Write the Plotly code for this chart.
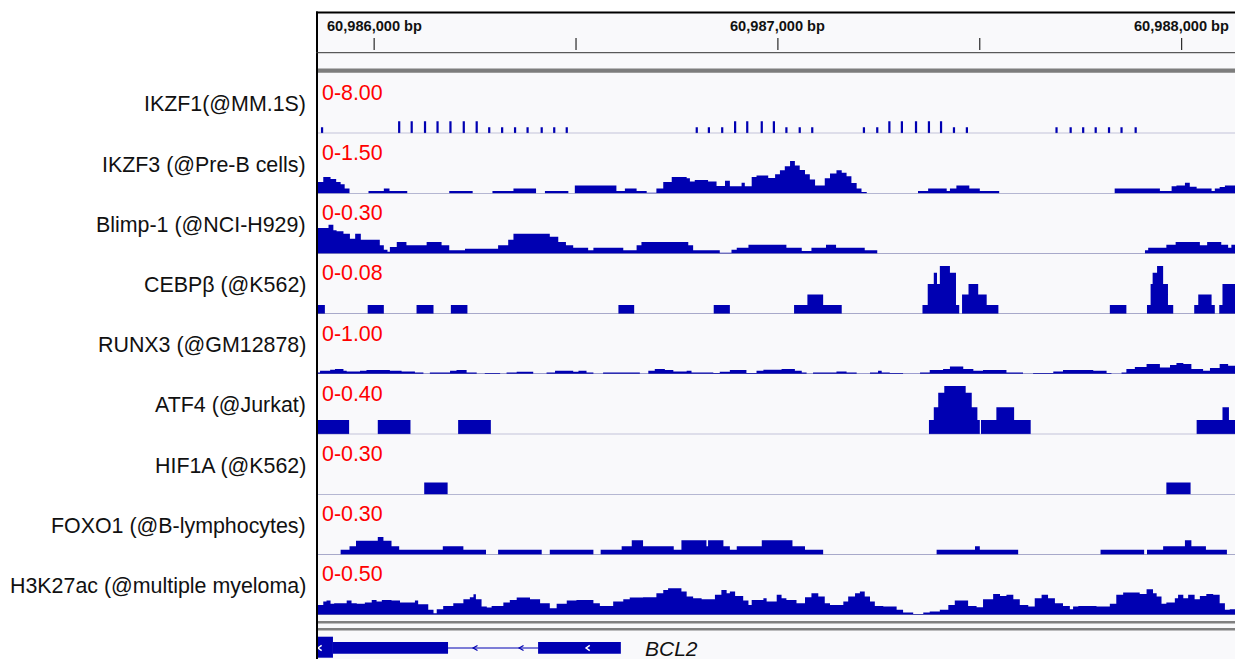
import plotly.graph_objects as go

# ---------------- data ----------------
REGION_CHR_START = 60985856          # first bp shown
REGION_LEN = 2276                    # bp shown

track_names = ["IKZF1(@MM.1S)", "IKZF3 (@Pre-B cells)", "Blimp-1 (@NCI-H929)",
               "CEBPβ (@K562)", "RUNX3 (@GM12878)", "ATF4 (@Jurkat)",
               "HIF1A (@K562)", "FOXO1 (@B-lymphocytes)", "H3K27ac (@multiple myeloma)"]
track_max = [8.0, 1.5, 0.3, 0.08, 1.0, 0.4, 0.3, 0.3, 0.5]

# positions are bp offsets from REGION_CHR_START
ikzf1_pos = [15, 206, 237, 270, 301, 333, 366, 398, 429, 461, 493, 524, 559, 590, 621,
             943, 973, 1006, 1038, 1068, 1104, 1134, 1165, 1198, 1229, 1357, 1390,
             1420, 1451, 1486, 1518, 1548, 1580, 1612, 1834, 1869, 1900, 1931, 1964, 1995, 2030]
ikzf1_val = [0.8] + [1.6] * 7 + [0.8] * 7 + [0.8] * 3 + [1.6] * 4 + [0.8] * 3 + [0.8] * 2 \
            + [1.6] * 5 + [0.8] * 2 + [0.8] * 7
ikzf1_bin = 5.5

ikzf3_start = [0, 18, 36, 50, 61, 71, 83, 130, 168, 182, 226, 330, 388, 437, 489, 545, 567, 625, 641, 744,
               765, 794, 819, 843, 860, 881, 918, 926, 938, 971, 992, 1013, 1025, 1054, 1062, 1079, 1091,
               1120, 1137, 1149, 1161, 1174, 1186, 1198, 1211, 1223, 1236, 1260, 1273, 1289, 1302, 1314,
               1326, 1339, 1351, 1364, 1491, 1516, 1562, 1570, 1586, 1618, 1644, 1692, 1978, 2090, 2119,
               2131, 2152, 2164, 2181, 2218, 2226, 2238, 2251]
ikzf3_val = [0.29, 0.41, 0.36, 0.29, 0.23, 0.125, 0, 0.06, 0.125, 0.06, 0, 0.06, 0, 0.06, 0.125, 0, 0.06, 0, 0.2, 0.06,
             0.125, 0.06, 0.02, 0.125, 0.29, 0.41, 0.38, 0.30, 0.34, 0.30, 0.19, 0.32, 0.18, 0.27, 0.18, 0.41, 0.45,
             0.39, 0.48, 0.58, 0.68, 0.81, 0.70, 0.59, 0.48, 0.35, 0.2, 0.38, 0.5, 0.58, 0.52, 0.43,
             0.26, 0.125, 0.04, 0, 0.06, 0.125, 0.06, 0.125, 0.2, 0.125, 0.06, 0, 0.125, 0.06, 0.18,
             0.2, 0.27, 0.17, 0.125, 0.06, 0.125, 0.16, 0.2]

blimp_start = [0, 31, 43, 51, 68, 84, 97, 111, 158, 168, 177, 183, 200, 224, 274, 311, 330, 369, 451, 476,
               489, 579, 600, 619, 637, 674, 687, 761, 794, 806, 922, 934, 1000, 1029, 1042, 1071, 1165, 1203,
               1227, 1263, 1288, 1359, 1390, 2053, 2061, 2106, 2129, 2189, 2207, 2242, 2259, 2267]
blimp_val = [0.128, 0.145, 0.117, 0.112, 0.10, 0.075, 0.10, 0.07, 0.042, 0.02, 0.01, 0.033, 0.058, 0.042, 0.058,
             0.042, 0.017, 0.025, 0.042, 0.07, 0.10, 0.085, 0.058, 0.042, 0.03, 0.017, 0.03, 0.017, 0.042, 0.058,
             0.042, 0.017, 0.005, 0.02, 0.03, 0.045, 0.03, 0.013, 0.03, 0.045, 0.03, 0.017, 0, 0.017, 0.03,
             0.045, 0.058, 0.042, 0.058, 0.045, 0.03, 0.045]

cebpb_start = [0, 128, 249, 334, 749, 985, 1184, 1217, 1256, 1502, 1515, 1530, 1538, 1545, 1570, 1585, 1600,
               1616, 1640, 1661, 1966, 2058, 2067, 2072, 2083, 2098, 2110, 2175, 2185, 2218, 2237, 2245]
cebpb_end = [22, 168, 291, 375, 788, 1025, 1217, 1256, 1302, 1515, 1530, 1538, 1545, 1570, 1585, 1593, 1616,
             1640, 1661, 1690, 2007, 2067, 2072, 2083, 2098, 2110, 2123, 2185, 2218, 2226, 2245, 2276]
cebpb_val = [0.012, 0.012, 0.012, 0.012, 0.012, 0.012, 0.012, 0.026, 0.012, 0.012, 0.04, 0.055, 0.04, 0.064,
             0.055, 0.012, 0.026, 0.04, 0.026, 0.012, 0.012, 0.012, 0.04, 0.055, 0.064, 0.04, 0.012, 0.012,
             0.026, 0.012, 0.012, 0.04]

runx3_start = [0, 10, 35, 47, 68, 76, 109, 125, 183, 212, 245, 266, 282, 332, 348, 373, 398, 418, 456, 472,
               497, 538, 571, 592, 637, 650, 670, 687, 711, 802, 823, 839, 864, 885, 918, 930, 984, 1000,
               1025, 1066, 1091, 1108, 1153, 1186, 1203, 1215, 1231, 1289, 1314, 1339, 1372, 1392, 1401, 1421,
               1454, 1496, 1520, 1553, 1570, 1603, 1628, 1652, 1710, 1751, 1776, 1826, 1850, 1925, 1958, 1970,
               1995, 2007, 2028, 2057, 2090, 2115, 2131, 2148, 2168, 2197, 2214, 2238, 2259]
runx3_val = [0.028, 0.055, 0.072, 0.083, 0.055, 0.044, 0.055, 0.067, 0.055, 0.044, 0.028, 0.005, 0.028, 0.055,
             0.067, 0.028, 0.005, 0.017, 0.005, 0.028, 0.039, 0.005, 0.028, 0.055, 0.039, 0.055, 0.028, 0.005,
             0.028, 0.005, 0.055, 0.083, 0.067, 0.044, 0.055, 0.028, 0.017, 0.039,
             0.067, 0.017, 0.055, 0.072, 0.083, 0.055, 0.028, 0.005, 0.028, 0.044, 0.028, 0.005, 0.028, 0.055,
             0.028, 0.017, 0.005, 0.028, 0.067, 0.083, 0.127, 0.083, 0.055, 0.067, 0.028, 0.005, 0.017, 0.044,
             0.067, 0.055, 0.017, 0.005, 0.028, 0.083, 0.12, 0.167, 0.11, 0.15, 0.183, 0.167, 0.083, 0.055,
             0.1, 0.167, 0.14]

atf4_start = [0, 153, 352, 1518, 1530, 1541, 1556, 1609, 1624, 1638, 1647, 1685, 1729, 2181, 2245, 2261]
atf4_end = [82, 234, 433, 1530, 1541, 1556, 1609, 1624, 1638, 1644, 1685, 1729, 1770, 2245, 2261, 2276]
atf4_val = [0.095, 0.095, 0.095, 0.095, 0.18, 0.277, 0.322, 0.277, 0.18, 0.095, 0.095, 0.18, 0.095,
            0.095, 0.18, 0.095]

hif1a_start = [268, 2106]
hif1a_end = [326, 2166]
hif1a_val = [0.06, 0.06]

foxo1_start = [0, 61, 83, 99, 153, 167, 187, 206, 314, 365, 421, 451, 559, 579, 687, 705, 757, 782, 810, 886,
               905, 967, 971, 1009, 1025, 1042, 1104, 1180, 1211, 1256, 1537, 1632, 1644, 1739, 1943, 2051,
               2058, 2098, 2152, 2168, 2204, 2256]
foxo1_val = [0, 0.025, 0.042, 0.07, 0.088, 0.07, 0.042, 0.025, 0.042, 0.025, 0, 0.025, 0, 0.025, 0, 0.025,
             0.042, 0.072, 0.042, 0.025, 0.072, 0.042, 0.072, 0.042, 0.025, 0.042, 0.072, 0.042, 0.025, 0,
             0.025, 0.042, 0.025, 0, 0.025, 0, 0.025, 0.042, 0.072, 0.042, 0.025, 0]

h3_start = [0, 18, 26, 36, 45, 76, 88, 101, 121, 138, 150, 163, 187, 208, 245, 253, 278, 291, 299, 315,
            340, 365, 381, 390, 396, 410, 423, 435, 464, 480, 497, 530, 555, 579, 596, 621, 645, 687, 703, 736,
            761, 777, 810, 843, 860, 872, 905, 918, 934, 955, 988, 1004, 1017,
            1025, 1038, 1058, 1071, 1079, 1108, 1116, 1141, 1153, 1165, 1190, 1211, 1227, 1244, 1260, 1273,
            1306, 1318, 1335, 1347, 1359, 1372, 1384, 1405, 1438, 1454, 1479, 1504, 1520, 1545, 1566, 1582,
            1615, 1636, 1652, 1677, 1694, 1710, 1727, 1743, 1764, 1780, 1797, 1813, 1830, 1850, 1867, 1875,
            1888, 1933, 1966, 1982, 1999, 2040, 2057, 2073, 2082, 2094, 2106, 2127, 2135, 2148, 2160, 2176,
            2189, 2205, 2222, 2238, 2251, 2263]
h3_val = [0.083, 0.111, 0.119, 0.092, 0.097, 0.119, 0.097, 0.092, 0.103, 0.125, 0.111, 0.125, 0.119, 0.103,
          0.119, 0.089, 0.042, 0.014, 0.047, 0.075, 0.097, 0.131, 0.147, 0.172, 0.131, 0.069, 0.061, 0.075,
          0.103, 0.125, 0.144, 0.131, 0.097, 0.056, 0.092, 0.119, 0.125, 0.097, 0.075, 0.111, 0.131, 0.144,
          0.147, 0.181, 0.208, 0.222, 0.194, 0.153, 0.139, 0.131, 0.167, 0.208, 0.181,
          0.194, 0.158, 0.119, 0.083, 0.125, 0.139, 0.111, 0.167, 0.139, 0.125, 0.097, 0.147, 0.181, 0.153,
          0.097, 0.083, 0.111, 0.153, 0.181, 0.194, 0.153, 0.111, 0.075, 0.069, 0.042, 0.019, 0.008, 0.019,
          0.028, 0.042, 0.083, 0.119, 0.075, 0.064, 0.131, 0.175, 0.158, 0.167, 0.131, 0.083, 0.069, 0.139,
          0.167, 0.139, 0.097, 0.075, 0.047, 0.069, 0.075, 0.069, 0.092, 0.167, 0.186, 0.175, 0.214, 0.181,
          0.153, 0.092, 0.103, 0.139, 0.167, 0.139, 0.167, 0.131, 0.158, 0.175, 0.167, 0.097, 0.042, 0.047]

# BCL2 gene model (minus strand), bp offsets
bcl2_block_start = [0, 42, 550]
bcl2_block_end = [42, 327, 755]
bcl2_block_coding = [True, False, False]
bcl2_intron = (327, 550)
bcl2_arrow_intron = [389, 503]
bcl2_arrow_exon = [5, 669]
bcl2_label_pos = 810

ruler_ticks = [60986000, 60986500, 60987000, 60987500, 60988000]
ruler_labels = ["60,986,000 bp", "", "60,987,000 bp", "", "60,988,000 bp"]

# ---------------- layout constants ----------------
W, H = 1235, 659
PANEL_X0 = 316
TRACK_TOP0 = 73.3
TRACK_PITCH = 60.2
TRACK_H = 60.0
BAR = "rgb(0,0,178)"
BASE_LINE = "#7376aa"
PANEL_BG = "#f9f9fb"
FONT = "Liberation Sans, Arial, Helvetica, sans-serif"
LABEL_SIZE = 21.4
SCALE_SIZE = 21.4


def fx(p):
    return p / W


def fy(p):
    return 1 - p / H


def steps_xy(starts, values, end=REGION_LEN):
    xs = [REGION_CHR_START + s for s in starts] + [REGION_CHR_START + end]
    ys = list(values) + [values[-1]]
    return xs, ys


def blocks_xy(starts, ends, values):
    xs, ys = [REGION_CHR_START], [0]
    prev_end = None
    for s, e, v in zip(starts, ends, values):
        if prev_end is not None and abs(s - prev_end) < 0.5:
            xs.pop(); ys.pop()
        xs.append(REGION_CHR_START + s); ys.append(v)
        xs.append(REGION_CHR_START + e); ys.append(0)
        prev_end = e
    return xs, ys


track_xy = [
    blocks_xy([p - ikzf1_bin / 2 for p in ikzf1_pos], [p + ikzf1_bin / 2 for p in ikzf1_pos], ikzf1_val),
    steps_xy(ikzf3_start, ikzf3_val),
    steps_xy(blimp_start, blimp_val),
    blocks_xy(cebpb_start, cebpb_end, cebpb_val),
    steps_xy(runx3_start, runx3_val),
    blocks_xy(atf4_start, atf4_end, atf4_val),
    blocks_xy(hif1a_start, hif1a_end, hif1a_val),
    steps_xy(foxo1_start, foxo1_val),
    steps_xy(h3_start, h3_val),
]

fig = go.Figure()
layout = dict(
    width=W, height=H, margin=dict(l=0, r=0, t=0, b=0),
    paper_bgcolor="white", plot_bgcolor="rgba(0,0,0,0)", showlegend=False,
    xaxis=dict(domain=[fx(PANEL_X0), 1], range=[REGION_CHR_START, REGION_CHR_START + REGION_LEN],
               visible=False, fixedrange=True),
)
shapes = []
annotations = []

# panel background
shapes.append(dict(type="rect", xref="paper", yref="paper", x0=fx(PANEL_X0), x1=1, y0=0, y1=fy(12),
                   fillcolor=PANEL_BG, line=dict(width=0), layer="below"))

for i, (name, mx) in enumerate(zip(track_names, track_max)):
    ax = i + 1
    base_px = TRACK_TOP0 + TRACK_H + i * TRACK_PITCH
    top_px = base_px - TRACK_H
    key = "yaxis" if ax == 1 else f"yaxis{ax}"
    layout[key] = dict(domain=[fy(base_px), fy(top_px)], range=[0, mx], visible=False, fixedrange=True)
    xs, ys = track_xy[i]
    fig.add_trace(go.Scatter(x=xs, y=ys, mode="lines", line=dict(width=0, color=BAR, shape="hv"),
                             fill="tozeroy", fillcolor=BAR, hoverinfo="skip",
                             xaxis="x", yaxis="y" if ax == 1 else f"y{ax}"))
    shapes.append(dict(type="line", xref="x domain", yref="y" if ax == 1 else f"y{ax}",
                       x0=0, x1=1, y0=0, y1=0, line=dict(color=BASE_LINE, width=1)))
    annotations.append(dict(text=name, xref="paper", yref="paper", x=fx(308), y=fy(base_px - 29),
                            xanchor="right", yanchor="middle", showarrow=False,
                            font=dict(family=FONT, size=LABEL_SIZE, color="#111111")))
    annotations.append(dict(text=f"0-{mx:.2f}", xref="paper", yref="paper", x=fx(320), y=fy(base_px - 40.5),
                            xanchor="left", yanchor="middle", showarrow=False,
                            font=dict(family=FONT, size=SCALE_SIZE, color="#ff0000")))

# gene track axis
layout["yaxis10"] = dict(domain=[0, fy(636)], range=[-11, 12], visible=False, fixedrange=True)
for s, e, coding in zip(bcl2_block_start, bcl2_block_end, bcl2_block_coding):
    hh = (-9.7, 11.3) if coding else (-5.8, 6.0)
    shapes.append(dict(type="rect", xref="x", yref="y10", x0=REGION_CHR_START + s, x1=REGION_CHR_START + e,
                       y0=hh[0], y1=hh[1], fillcolor=BAR, line=dict(width=0)))
shapes.append(dict(type="line", xref="x", yref="y10", x0=REGION_CHR_START + bcl2_intron[0],
                   x1=REGION_CHR_START + bcl2_intron[1], y0=0, y1=0, line=dict(color=BAR, width=1)))
for a in bcl2_arrow_intron:
    x = REGION_CHR_START + a
    shapes.append(dict(type="path", xref="x", yref="y10", path=f"M {x + 11},2.6 L {x},0 L {x + 11},-2.6",
                       line=dict(color=BAR, width=1.2)))
for a in bcl2_arrow_exon:
    x = REGION_CHR_START + a
    shapes.append(dict(type="path", xref="x", yref="y10", path=f"M {x + 9},2.6 L {x},0 L {x + 9},-2.6",
                       line=dict(color="white", width=1.5)))
annotations.append(dict(text="<i>BCL2</i>", xref="x", yref="y10", x=REGION_CHR_START + bcl2_label_pos, y=0,
                        xanchor="left", yanchor="middle", showarrow=False,
                        font=dict(family=FONT, size=21, color="#111111")))

# ruler
for t, lab in zip(ruler_ticks, ruler_labels):
    shapes.append(dict(type="line", xref="x", yref="paper", x0=t, x1=t, y0=fy(50), y1=fy(38),
                       line=dict(color="black", width=1)))
    if lab:
        annotations.append(dict(text=f"<b>{lab}</b>", xref="x", yref="paper", x=t, y=fy(26.5),
                                xanchor="center", yanchor="middle", showarrow=False,
                                font=dict(family=FONT, size=14.6, color="#111111")))

# frame / separators
shapes.append(dict(type="line", xref="paper", yref="paper", x0=fx(PANEL_X0), x1=1, y0=fy(12.5), y1=fy(12.5),
                   line=dict(color="black", width=2)))
shapes.append(dict(type="line", xref="paper", yref="paper", x0=fx(317), x1=fx(317), y0=0, y1=fy(11.5),
                   line=dict(color="black", width=2)))
shapes.append(dict(type="line", xref="paper", yref="paper", x0=fx(PANEL_X0), x1=1, y0=fy(52.7), y1=fy(52.7),
                   line=dict(color="#333333", width=1)))
shapes.append(dict(type="rect", xref="paper", yref="paper", x0=fx(318), x1=1, y0=fy(72.8), y1=fy(68.5),
                   fillcolor="#7d7d7d", line=dict(width=0)))
for y0, y1 in [(621.0, 623.4), (628.0, 630.4)]:
    shapes.append(dict(type="rect", xref="paper", yref="paper", x0=fx(318), x1=1, y0=fy(y1), y1=fy(y0),
                       fillcolor="#808080", line=dict(width=0)))

layout["shapes"] = shapes
layout["annotations"] = annotations
fig.update_layout(**layout)

fig.write_html("out.html", config={"displayModeBar": False, "staticPlot": True},
               post_script="document.body.style.margin='0px';document.body.style.overflow='hidden';")
